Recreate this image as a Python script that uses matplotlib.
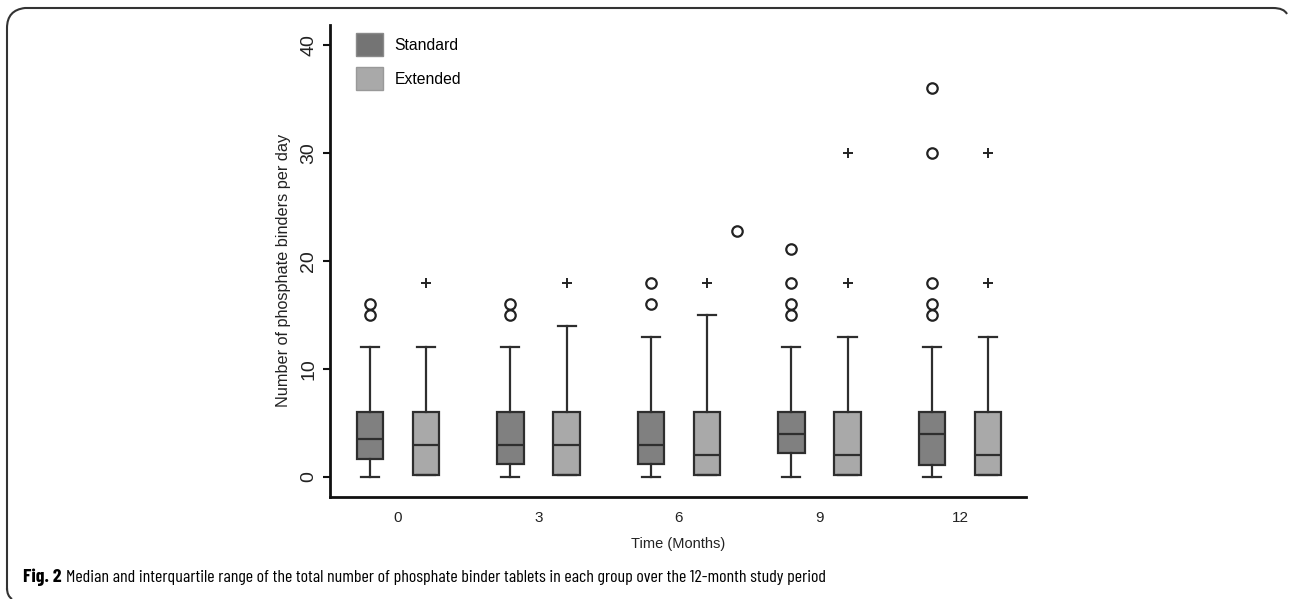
import matplotlib.pyplot as plt
import numpy as np
from matplotlib.path import Path
from matplotlib.patches import PathPatch, Patch

# dados (mediana, quartis, bigodes e outliers por grupo)
meses = ["0", "3", "6", "9", "12"]
grupos = ["Standard", "Extended"]

std_low = [0, 0, 0, 0, 0]
std_q1 = [1.7, 1.2, 1.2, 2.2, 1.1]
std_med = [3.5, 3, 3, 4, 4]
std_q3 = [6, 6, 6, 6, 6]
std_high = [12, 12, 13, 12, 12]
std_out = [[15, 16], [15, 16], [16, 18], [15, 16, 18, 21.1], [15, 16, 18, 30, 36]]

ext_low = [0.15, 0.15, 0.15, 0.15, 0.15]
ext_q1 = [0.15, 0.15, 0.15, 0.15, 0.15]
ext_med = [3, 3, 2, 2, 2]
ext_q3 = [6, 6, 6, 6, 6]
ext_high = [12, 14, 15, 13, 13]
ext_out = [[18], [18], [18], [18, 30], [18, 30]]

# ponto solto entre os grupos 6 e 9
extra_x = [2.413]
extra_y = [22.8]

cor_std = "#808080"
cor_ext = "#a9a9a9"
cor_linha = "#2e2e2e"

plt.rcParams['font.family'] = ['Liberation Sans', 'DejaVu Sans']

W, H = 1289, 599
fig = plt.figure(figsize=(W / 100, H / 100), dpi=100)
ax = fig.add_axes([330/W, 1 - 497/H, (1026 - 330)/W, (497 - 25)/H])


def stats(low, q1, med, q3, high):
    return [dict(whislo=low[i], q1=q1[i], med=med[i], q3=q3[i], whishi=high[i], fliers=[])
            for i in range(len(med))]


x = np.arange(len(meses))
desloc = 0.2
larg = 0.19

for st, pos, cor in [(stats(std_low, std_q1, std_med, std_q3, std_high), x - desloc, cor_std),
                     (stats(ext_low, ext_q1, ext_med, ext_q3, ext_high), x + desloc, cor_ext)]:
    ax.bxp(st, positions=pos, widths=larg, patch_artist=True, showfliers=False,
           capwidths=larg * 0.68,
           boxprops=dict(facecolor=cor, edgecolor=cor_linha, linewidth=1.6),
           medianprops=dict(color=cor_linha, linewidth=1.6),
           whiskerprops=dict(color=cor_linha, linewidth=1.6),
           capprops=dict(color=cor_linha, linewidth=1.6))

# outliers
for i in range(len(meses)):
    ax.plot([x[i] - desloc] * len(std_out[i]), std_out[i], 'o', mfc='white', mec='#222222',
            mew=1.6, ms=7.5, zorder=3)
    ax.plot([x[i] + desloc] * len(ext_out[i]), ext_out[i], '+', color='#222222',
            mew=1.4, ms=7, zorder=3)
ax.plot(extra_x, extra_y, 'o', mfc='white', mec='#222222', mew=1.6, ms=7.5, zorder=3)

ax.set_xlim(-0.484, 4.47)
ax.set_ylim(-1.85, 41.85)
ax.set_xticks(x)
ax.set_xticklabels(meses, fontsize=11, color='#222222')
ax.tick_params(axis='x', length=0, pad=10)
ax.set_yticks([0, 10, 20, 30, 40])
ax.set_yticklabels(["0", "10", "20", "30", "40"], rotation=90, va='center', fontsize=14, color='#222222')
ax.tick_params(axis='y', length=5, width=1.5, pad=4, color='#111111')
for s in ['top', 'right']:
    ax.spines[s].set_visible(False)
for s in ['left', 'bottom']:
    ax.spines[s].set_linewidth(2)
    ax.spines[s].set_color('#111111')

ax.set_ylabel("Number of phosphate binders per day", fontsize=11.7, color='#222222')
ax.yaxis.set_label_coords(-0.056, 0.48)
ax.set_xlabel("Time (Months)", fontsize=10.5, color='#222222', labelpad=9)

handles = [Patch(facecolor="#747474", edgecolor="#8a8a8a", label="Standard"),
           Patch(facecolor="#a9a9a9", edgecolor="#999999", label="Extended")]
ax.legend(handles=handles, loc='upper left', bbox_to_anchor=(0.017, 1.012), frameon=False,
          fontsize=11.3, handlelength=1.75, handleheight=1.8, labelspacing=0.75, handletextpad=0.7)

# moldura arredondada da figura
pts = [(7, 590), (7, 28), (7, 10), (25, 8), (1273, 8), (1284, 8), (1287, 14)]
cods = [Path.MOVETO, Path.LINETO, Path.CURVE3, Path.CURVE3, Path.LINETO, Path.CURVE3, Path.CURVE3]
pts = [(px / W, 1 - py / H) for px, py in pts]
fig.patches.append(PathPatch(Path(pts, cods), transform=fig.transFigure, fill=False,
                             edgecolor='#333333', linewidth=1.5))
pts2 = [(7, 588), (7, 596), (12, 599)]
pts2 = [(px / W, 1 - py / H) for px, py in pts2]
fig.patches.append(PathPatch(Path(pts2, [Path.MOVETO, Path.CURVE3, Path.CURVE3]),
                             transform=fig.transFigure, fill=False, edgecolor='#333333', linewidth=1.5))

# legenda da figura, com tamanho ajustado à largura da referência
fonte_leg = ['Barlow Condensed', 'Liberation Sans']
t1 = fig.text(23 / W, 1 - 582 / H, "Fig. 2", fontsize=13, fontweight='bold', va='baseline',
              family=fonte_leg)
t2 = fig.text(83 / W, 1 - 582 / H,
              "Median and interquartile range of the total number of phosphate binder tablets in each group over the 12-month study period",
              fontsize=13, va='baseline', family=fonte_leg)
r = fig.canvas.get_renderer()
tam = 13
for _ in range(3):
    tam = tam * 760 / t2.get_window_extent(r).width
    t2.set_fontsize(tam)
    t1.set_fontsize(tam * 1.1)
fim = t1.get_window_extent(r).x1
t2.set_x((fim + 4) / W)

plt.savefig("out.png", dpi=100)
